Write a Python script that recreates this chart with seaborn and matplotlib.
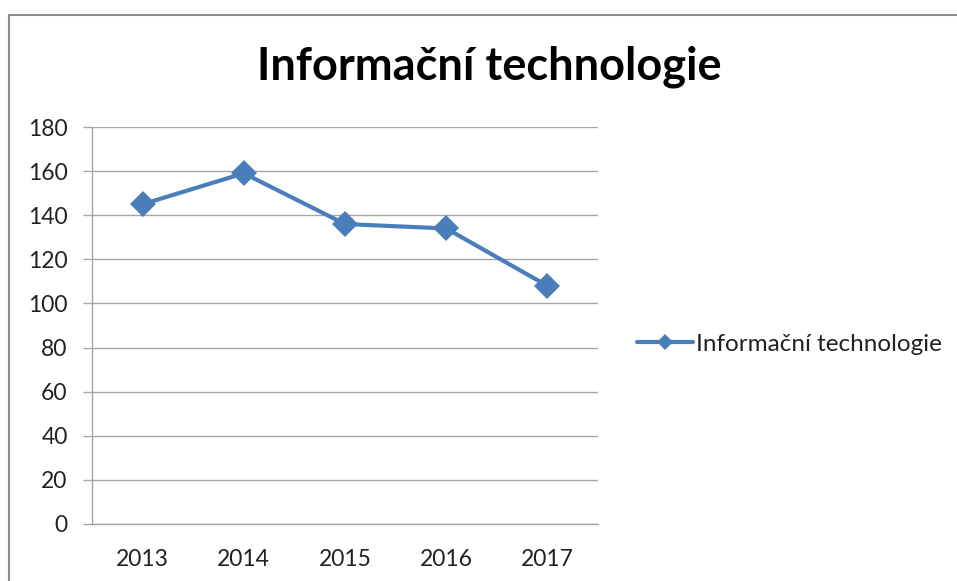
import matplotlib
matplotlib.use("Agg")
import matplotlib.pyplot as plt
import numpy as np
import pandas as pd
import seaborn as sns
from matplotlib.lines import Line2D

# data
years = ["2013", "2014", "2015", "2016", "2017"]
values = [145, 159, 136, 134, 108]
series_name = "Informační technologie"
y_ticks = [0, 20, 40, 60, 80, 100, 120, 140, 160, 180]

df = pd.DataFrame({"rok": years, "hodnota": values})

sns.set_style("white")
plt.rcParams["font.family"] = ["Lato", "DejaVu Sans"]

line_color = "#4a7ebb"
grid_color = "#a6a6a6"
text_color = "#222222"

fig = plt.figure(figsize=(9.57, 5.81), dpi=100)
ax = fig.add_axes([92 / 957, 1 - 524 / 581, 506 / 957, 397 / 581])

sns.lineplot(data=df, x="rok", y="hodnota", ax=ax, color=line_color,
             linewidth=3, marker="D", markersize=13, markeredgewidth=0,
             label=series_name, sort=False)

# axes styling (Excel-like)
ax.set_xlim(-0.5, 4.5)
ax.set_ylim(0, 180)
ax.set_yticks(y_ticks)
ax.set_xlabel("")
ax.set_ylabel("")
ax.yaxis.grid(True, color=grid_color, linewidth=1)
ax.set_axisbelow(True)
for s in ["top", "right"]:
    ax.spines[s].set_visible(False)
for s in ["left", "bottom"]:
    ax.spines[s].set_color(grid_color)
    ax.spines[s].set_linewidth(1)

ax.set_xticks(range(len(years)))
ax.set_xticklabels(years)
ax.set_xticks(np.arange(-0.5, len(years), 1), minor=True)
ax.tick_params(axis="x", which="major", length=0, pad=18, labelsize=16.5, labelcolor=text_color)
ax.tick_params(axis="x", which="minor", length=6, width=1, color=grid_color, direction="out")
ax.tick_params(axis="y", length=6.5, width=1, color=grid_color, pad=11, labelsize=16.5,
               labelcolor=text_color, left=True)

fig.suptitle("Informační technologie", x=489 / 957, y=1 - 67 / 581, va="center",
             fontsize=32.5, fontweight="bold", color="black")

leg = ax.legend(loc="center left", bbox_to_anchor=(637 / 957, 1 - 344 / 581),
                bbox_transform=fig.transFigure, frameon=False, fontsize=17.5,
                borderpad=0, borderaxespad=0, handlelength=2.3, handletextpad=0.12)
for t in leg.get_texts():
    t.set_color(text_color)
for h in leg.legend_handles:
    h.set_markersize(8)

# outer chart border: only left and top edges are visible in the reference
top_y = 1 - 15 / 581
left_x = 9 / 957
fig.add_artist(Line2D([left_x, left_x, 1.1], [-0.1, top_y, top_y], transform=fig.transFigure,
                      color="#8c8c8c", linewidth=1.5, solid_joinstyle="miter",
                      solid_capstyle="butt"))

fig.savefig("out.png", dpi=100)
